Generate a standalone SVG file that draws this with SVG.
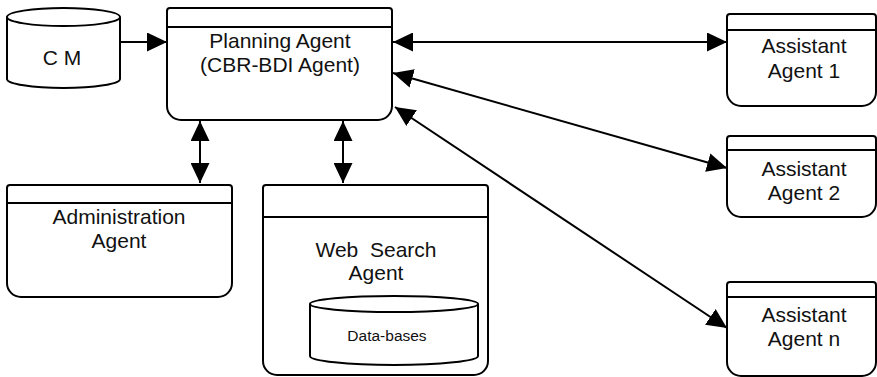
<svg xmlns="http://www.w3.org/2000/svg" width="877" height="377" viewBox="0 0 877 377">
  <style>
    .shape { fill: #fff; stroke: #000; stroke-width: 2; }
    .rule { fill: none; stroke: #000; stroke-width: 2; }
    .link { fill: none; stroke: #000; stroke-width: 2; }
    .label { font-family: "Liberation Sans", Arial, sans-serif; font-size: 21px; fill: #111; text-anchor: middle; white-space: pre; }
    .small { font-size: 15.5px; }
  </style>
  <defs>
    <marker id="head" markerUnits="userSpaceOnUse" markerWidth="21" markerHeight="19" viewBox="0 0 21 19" refX="20" refY="9.5" orient="auto-start-reverse">
      <path d="M0,0 L20,9.5 L0,19 Z" fill="#000"/>
    </marker>
  </defs>

  <!-- connectors -->
  <g id="connectors">
    <line class="link" x1="120" y1="42" x2="167" y2="42" marker-end="url(#head)"/>
    <line class="link" x1="393" y1="42" x2="727" y2="42" marker-start="url(#head)" marker-end="url(#head)"/>
    <line class="link" x1="393" y1="73" x2="727" y2="168" marker-start="url(#head)" marker-end="url(#head)"/>
    <line class="link" x1="395" y1="107" x2="727" y2="328" marker-start="url(#head)" marker-end="url(#head)"/>
    <line class="link" x1="200" y1="121" x2="200" y2="183" marker-start="url(#head)" marker-end="url(#head)"/>
    <line class="link" x1="343" y1="121" x2="343" y2="183" marker-start="url(#head)" marker-end="url(#head)"/>
  </g>

  <!-- CM store -->
  <g id="cm">
    <path class="shape" d="M7,17 V79 A56.5,9 0 0 0 120,79 V17"/>
    <ellipse class="shape" cx="63.5" cy="17" rx="56.5" ry="9"/>
    <text class="label" x="62" y="65">C M</text>
  </g>

  <!-- Planning agent -->
  <g id="planning">
    <path class="shape" d="M167,11 A3,3 0 0 1 170,8 H389 A3,3 0 0 1 392,11 V106 A14,14 0 0 1 378,120 H181 A14,14 0 0 1 167,106 Z"/>
    <line class="rule" x1="167" y1="27" x2="392" y2="27"/>
    <text class="label" x="280" y="48">Planning Agent</text>
    <text class="label" x="280" y="72">(CBR-BDI Agent)</text>
  </g>

  <!-- Assistant agent 1 -->
  <g id="assistant1">
    <path class="shape" d="M727,17 A3,3 0 0 1 730,14 H873 A3,3 0 0 1 876,17 V92 A14,14 0 0 1 862,106 H741 A14,14 0 0 1 727,92 Z"/>
    <line class="rule" x1="727" y1="30" x2="876" y2="30"/>
    <text class="label" x="804" y="53">Assistant</text>
    <text class="label" x="804" y="78">Agent 1</text>
  </g>

  <!-- Assistant agent 2 -->
  <g id="assistant2">
    <path class="shape" d="M727,139 A3,3 0 0 1 730,136 H873 A3,3 0 0 1 876,139 V203 A14,14 0 0 1 862,217 H741 A14,14 0 0 1 727,203 Z"/>
    <line class="rule" x1="727" y1="150" x2="876" y2="150"/>
    <text class="label" x="804" y="176">Assistant</text>
    <text class="label" x="804" y="200">Agent 2</text>
  </g>

  <!-- Assistant agent n -->
  <g id="assistantn">
    <path class="shape" d="M727,285 A3,3 0 0 1 730,282 H873 A3,3 0 0 1 876,285 V362 A14,14 0 0 1 862,376 H741 A14,14 0 0 1 727,362 Z"/>
    <line class="rule" x1="727" y1="297" x2="876" y2="297"/>
    <text class="label" x="804" y="322">Assistant</text>
    <text class="label" x="804" y="346">Agent n</text>
  </g>

  <!-- Administration agent -->
  <g id="administration">
    <path class="shape" d="M7,188 A3,3 0 0 1 10,185 H229 A3,3 0 0 1 232,188 V283 A14,14 0 0 1 218,297 H21 A14,14 0 0 1 7,283 Z"/>
    <line class="rule" x1="7" y1="203" x2="232" y2="203"/>
    <text class="label" x="119" y="224">Administration</text>
    <text class="label" x="119" y="248">Agent</text>
  </g>

  <!-- Web search agent with its data store -->
  <g id="websearch">
    <path class="shape" d="M263,188 A3,3 0 0 1 266,185 H485 A3,3 0 0 1 488,188 V361 A14,14 0 0 1 474,375 H277 A14,14 0 0 1 263,361 Z"/>
    <line class="rule" x1="263" y1="217" x2="488" y2="217"/>
    <text class="label" x="376" y="257">Web  Search</text>
    <text class="label" x="376" y="280">Agent</text>
  </g>
  <g id="databases">
    <path class="shape" d="M310,304 V356 A84,9 0 0 0 478,356 V304"/>
    <ellipse class="shape" cx="394" cy="304" rx="84" ry="8"/>
    <text class="label small" x="387" y="341">Data-bases</text>
  </g>
</svg>
